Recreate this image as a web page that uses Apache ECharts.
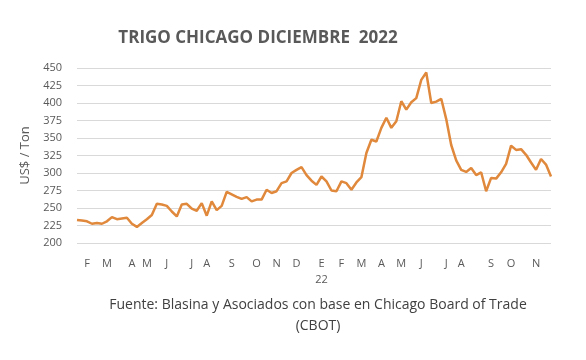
<!DOCTYPE html>
<html>
<head>
<meta charset="utf-8">
<script src="https://cdn.jsdelivr.net/npm/echarts@6/dist/echarts.min.js"></script>
<style>html,body{margin:0;padding:0;background:#fff}#c{width:586px;height:360px}</style>
</head>
<body>
<div id="c"></div>
<script>
// Weekly settlement prices, US$/Ton (Feb 2021 - Nov 2022)
var prices = [
  233, 232, 231, 227.5, 228.5, 227.5, 231, 237, 234, 235,
  236, 227.5, 223, 228.5, 234, 240, 256, 255, 253, 245,
  238, 255, 256, 249, 246, 257, 239, 259.5, 247, 253,
  273, 269.5, 266, 263, 265.5, 259.5, 262, 262, 276, 271.5,
  274, 285.5, 288, 300, 304.5, 308.5, 297, 289, 283, 295,
  288, 275, 274, 288, 285.5, 276, 286.5, 294, 328.5, 347.5,
  345, 364.5, 379, 364.5, 374, 402.5, 390.5, 401, 407, 433,
  443.5, 400, 402, 406, 377, 340, 318, 304.5, 301.5, 307,
  297, 301, 274, 293, 292, 301, 313, 339, 333, 334,
  326, 315, 304.5, 320, 312, 295
];
// Month tick labels and the week index where each appears
var monthLabels = ['F','M','A','M','J','J','A','S','O','N','D','E\n22','F','M','A','M','J','J','A','S','O','N'];
var monthWeek   = [2, 6, 11, 14, 18, 23, 26, 31, 36, 40, 44, 49, 53, 57, 61, 65, 69, 74, 77, 83, 87, 92];
var yTicks = {min: 200, max: 450, step: 25};

var categories = prices.map(function(){ return ''; });
monthWeek.forEach(function(w, k){ categories[w] = monthLabels[k]; });

var chart = echarts.init(document.getElementById('c'), null, {renderer: 'canvas'});
var FONT = '"Open Sans", "Noto Sans", sans-serif';
chart.setOption({
  animation: false,
  backgroundColor: '#ffffff',
  title: [{
    text: 'TRIGO CHICAGO DICIEMBRE  2022',
    left: 253, top: 25, textAlign: 'center',
    textStyle: {fontFamily: FONT, fontSize: 17, fontWeight: 'bold', color: '#595959'}
  }, {
    text: 'Fuente: Blasina y Asociados con base en Chicago Board of Trade\n(CBOT)',
    left: 313, top: 290, textAlign: 'center',
    textStyle: {fontFamily: FONT, fontSize: 14, fontWeight: 'normal', color: '#404040', lineHeight: 21}
  }],
  grid: {left: 77, right: 35, top: 68, bottom: 117, containLabel: false},
  xAxis: {
    type: 'category',
    data: categories,
    boundaryGap: false,
    axisLine: {show: false},
    axisTick: {show: false},
    splitLine: {show: false},
    axisLabel: {interval: 0, hideOverlap: false, color: '#595959', fontFamily: FONT, fontSize: 11, margin: 13, lineHeight: 16}
  },
  yAxis: {
    type: 'value',
    min: yTicks.min, max: yTicks.max, interval: yTicks.step,
    name: 'US$ / Ton',
    nameLocation: 'middle',
    nameGap: 42,
    nameRotate: 90,
    nameTextStyle: {color: '#595959', fontFamily: FONT, fontSize: 13},
    axisLine: {show: false},
    axisTick: {show: false},
    axisLabel: {color: '#595959', fontFamily: FONT, fontSize: 11, margin: 15},
    splitLine: {lineStyle: {color: '#d9d9d9', width: 1}}
  },
  series: [{
    type: 'line',
    data: prices,
    showSymbol: false,
    smooth: false,
    lineStyle: {color: '#e0883b', width: 2.5},
    itemStyle: {color: '#e0883b'}
  }]
});
</script>
</body>
</html>
